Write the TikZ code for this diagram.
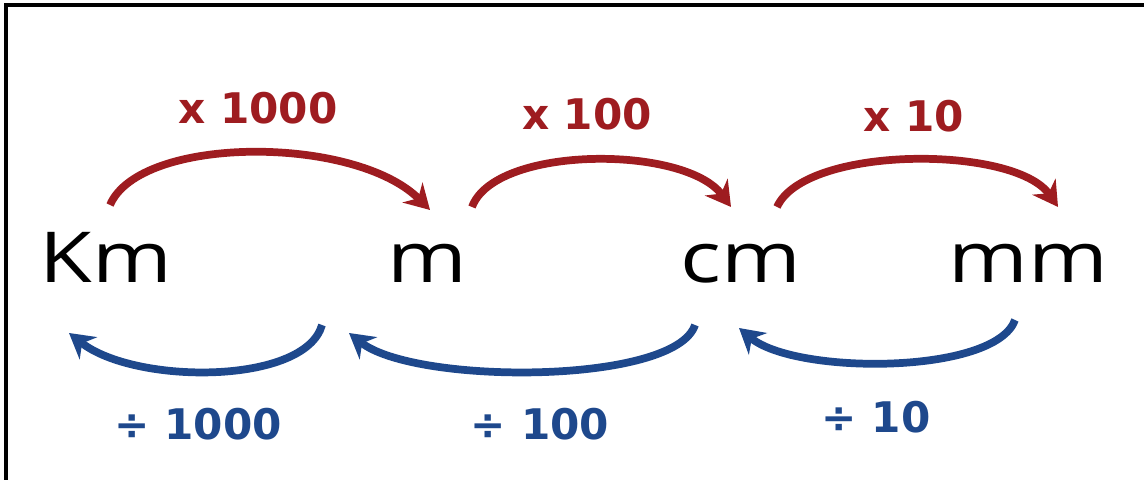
\documentclass[tikz,border=0pt]{standalone}
\usepackage{fontspec}
\setmainfont{Open Sans}
\newfontfamily\unitfont[FakeStretch=1.22]{Open Sans}
\newfontfamily\factorfont{DejaVu Sans}
\usepackage{tikz}
\usetikzlibrary{arrows.meta, calc}
\definecolor{multred}{RGB}{158,28,32}
\definecolor{divblue}{RGB}{30,72,140}
\tikzset{
  unit/.style={anchor=base, inner sep=0pt, font=\unitfont\fontsize{20}{24}\selectfont},
  multlabel/.style={text=multred, font=\factorfont\bfseries\fontsize{12}{14}\selectfont},
  divlabel/.style={text=divblue, font=\factorfont\bfseries\fontsize{12}{14}\selectfont},
  multarrow/.style={multred, line width=2.2pt, -{Stealth[length=7pt, width=8pt]}},
  divarrow/.style={divblue, line width=2.2pt, -{Stealth[length=7pt, width=8pt]}}
}

\begin{document}
\begin{tikzpicture}
    \useasboundingbox (0,0) rectangle (11.44,4.80);

    % Marco (solo borde izquierdo y superior)
    \draw[line width=0.9pt] (0.06,0) -- (0.06,4.75) -- (11.44,4.75);

    % Unidades
    \node[unit] (km) at (1.06, 1.97) {Km};
    \node[unit] (m)  at (4.27, 1.97) {m};
    \node[unit] (cm) at (7.41, 1.97) {cm};
    \node[unit] (mm) at (10.28, 1.97) {mm};

    % Extremos de las flechas
    \coordinate (kmTop) at (1.10, 2.75);
    \coordinate (mIn)   at (4.30, 2.70);
    \coordinate (mTop)  at (4.72, 2.73);
    \coordinate (cmIn)  at (7.31, 2.73);
    \coordinate (cmTop) at (7.77, 2.73);
    \coordinate (mmIn)  at (10.58, 2.73);

    \coordinate (mBot)   at (3.22, 1.55);
    \coordinate (kmOut)  at (0.69, 1.47);
    \coordinate (cmBot)  at (6.95, 1.55);
    \coordinate (mOut)   at (3.49, 1.47);
    \coordinate (mmBot)  at (10.15, 1.60);
    \coordinate (cmOut)  at (7.39, 1.52);

    % Flechas de multiplicar (rojas)
    \draw[multarrow] (kmTop) .. controls (1.40,3.45) and (3.55,3.45) .. (mIn);
    \draw[multarrow] (mTop) .. controls (4.95,3.35) and (6.85,3.35) .. (cmIn);
    \draw[multarrow] (cmTop) .. controls (8.05,3.35) and (10.15,3.35) .. (mmIn);

    \node[multlabel] (x1000) at (2.58, 3.72) {x 1000};
    \node[multlabel] (x100)  at (5.87, 3.66) {x 100};
    \node[multlabel] (x10)   at (9.14, 3.64) {x 10};

    % Flechas de dividir (azules)
    \draw[divarrow] (mBot) .. controls (3.05,0.95) and (1.35,0.95) .. (kmOut);
    \draw[divarrow] (cmBot) .. controls (6.75,0.95) and (4.15,0.95) .. (mOut);
    \draw[divarrow] (mmBot) .. controls (9.95,1.05) and (7.95,1.05) .. (cmOut);

    \node[divlabel] (d1000) at (1.98, 0.56) {÷ 1000};
    \node[divlabel] (d100)  at (5.40, 0.56) {÷ 100};
    \node[divlabel] (d10)   at (8.76, 0.63) {÷ 10};

\end{tikzpicture}
\end{document}
